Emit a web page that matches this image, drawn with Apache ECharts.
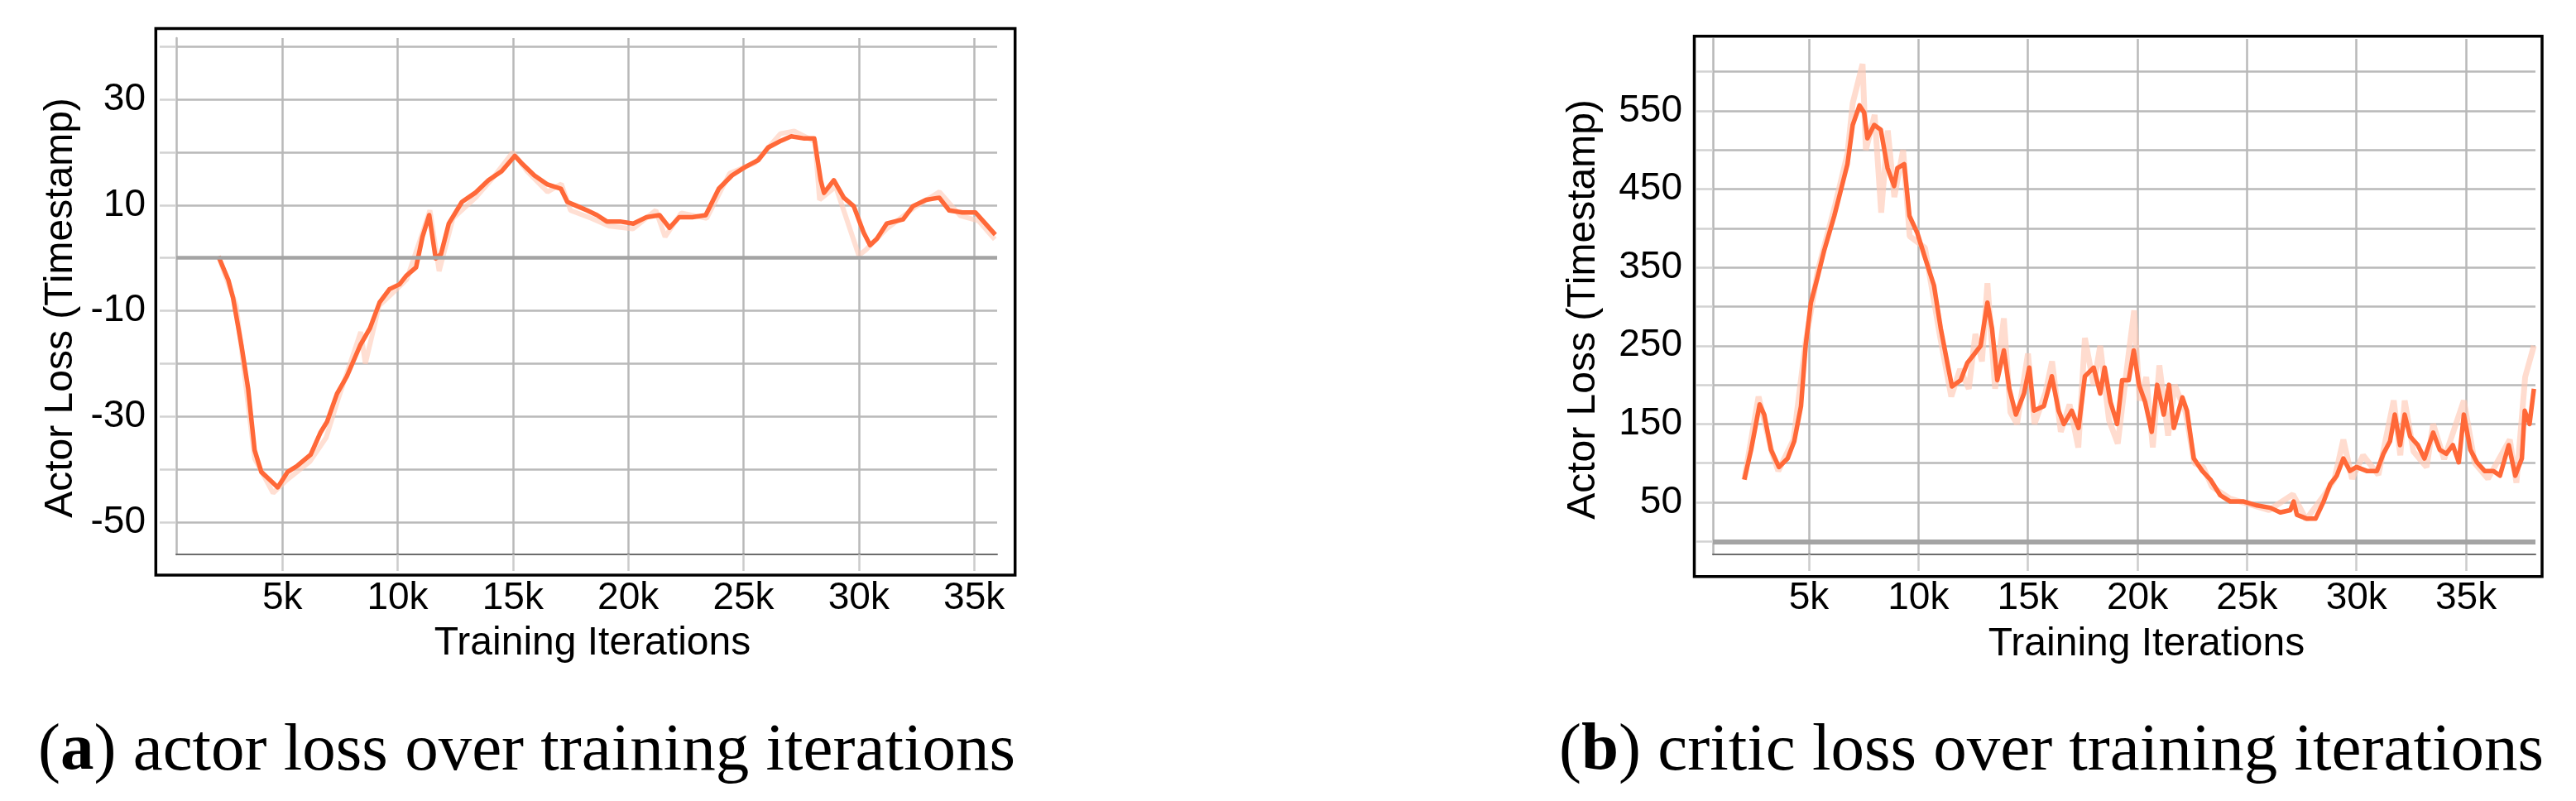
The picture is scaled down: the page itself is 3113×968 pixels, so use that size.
<!DOCTYPE html>
<html><head><meta charset="utf-8">
<script src="https://cdn.jsdelivr.net/npm/echarts@6/dist/echarts.min.js"></script>
<style>html,body{margin:0;padding:0;background:#fff}#c{width:3113px;height:968px}</style>
</head><body><div id="c"></div>
<script>
// ---------- data (iterations in thousands) ----------
const actorIterK = [2.23,2.66,2.86,3.23,3.52,3.80,4.09,4.51,4.80,5.23,5.66,6.23,6.66,6.94,7.37,7.80,8.37,8.80,9.22,9.65,10.08,10.37,10.80,11.08,11.37,11.65,11.88,12.22,12.79,13.36,13.94,14.51,15.08,15.36,15.93,16.50,17.08,17.36,17.79,18.22,18.65,19.07,19.64,20.22,20.79,21.36,21.79,22.21,22.78,23.36,23.93,24.50,25.07,25.64,26.07,26.64,27.07,27.64,28.07,28.35,28.49,28.92,29.35,29.78,30.21,30.49,30.78,31.21,31.92,32.35,32.92,33.49,33.92,34.49,35.06,35.49,35.92];
const actorLoss = [0.3,-4.2,-7.5,-16.6,-24.8,-36.4,-40.5,-42.2,-43.4,-40.5,-39.3,-37.2,-33,-31,-25.7,-22.4,-16.6,-13.3,-8.4,-5.9,-5,-3.4,-1.8,4,8.1,-0.1,0.7,6.5,10.6,12.3,14.7,16.4,19.3,18,15.6,13.9,13.1,10.6,9.8,9,8.1,6.9,6.9,6.5,7.7,8.1,5.7,7.7,7.7,8.1,13.1,15.6,17.2,18.5,20.9,22.2,23,22.6,22.6,14.7,12.3,14.7,11.4,9.8,4.8,2.4,3.6,6.5,7.3,9.8,11,11.4,9,8.6,8.6,6.5,4.4];
const actorRawIterK = [2.23,3.0,3.8,4.6,5.2,6.2,6.9,7.4,8.4,8.6,9.2,9.7,10.4,11.1,11.4,11.8,12.4,13.4,14.2,15.0,15.6,16.5,17.1,17.5,18.4,19.2,20.2,21.2,21.6,22.3,23.4,24.4,25.5,26.6,27.2,28.1,28.3,29.0,30.0,30.3,31.2,32.4,33.5,34.4,35.2,35.9];
const actorRawLoss = [0.3,-9,-38,-44.5,-42,-38.5,-34,-27,-14,-20,-9,-7,-4,5,9,-2.5,7.5,11.5,15.5,20,16.5,12.5,14,9,7.5,6,5.5,9,4,8.5,7.5,16,18,23.5,24,22,11,13.5,0.5,1.5,5.5,9.5,12.5,8,7,3.5];
const criticIterK = [2.05,2.36,2.75,2.96,3.27,3.63,4.03,4.33,4.64,4.85,5.09,5.4,5.7,6.16,6.46,6.76,7.0,7.31,7.52,7.67,7.98,8.28,8.59,8.89,9.04,9.35,9.59,9.95,10.26,10.71,11.02,11.32,11.53,11.93,12.23,12.54,12.84,13.15,13.36,13.6,13.9,14.15,14.45,14.82,15.06,15.27,15.73,16.09,16.4,16.64,17.0,17.31,17.6,18.0,18.3,18.5,18.77,19.07,19.3,19.6,19.83,20.07,20.35,20.65,20.9,21.2,21.44,21.66,22.05,22.26,22.57,22.96,23.33,23.78,24.24,24.85,25.46,26.06,26.52,26.98,27.13,27.28,27.74,28.13,28.5,28.8,29.1,29.4,29.7,30.0,30.47,30.93,31.23,31.53,31.75,31.99,32.2,32.45,32.8,33.1,33.5,33.8,34.1,34.4,34.67,34.9,35.2,35.5,35.85,36.25,36.55,36.95,37.25,37.55,37.68,37.9,38.1];
const criticLoss = [79,117,175,162,117,95,106,128,173,250,305,338,372,416,449,482,532,557,548,515,532,526,477,454,477,482,416,394,366,327,272,228,198,206,228,239,250,305,272,206,244,195,162,189,222,167,173,211,167,150,167,145,211,222,189,222,178,150,206,206,244,200,178,140,200,162,200,145,184,167,106,90,79,59,51,51,46,43,37,40,51,34,29,29,51,73,84,106,90,95,90,90,112,128,162,123,162,134,123,106,139,117,112,123,101,162,117,101,90,90,84,123,84,106,167,150,195];
const criticRawIterK = [2.05,2.7,3.3,3.6,4.3,4.85,5.4,6.2,6.76,7.0,7.45,7.6,8.0,8.3,8.6,8.9,9.3,9.6,10.3,11.0,11.5,11.9,12.3,12.6,12.9,13.15,13.5,13.9,14.2,14.5,15.0,15.3,15.8,16.1,16.5,16.9,17.3,17.6,18.0,18.3,18.7,19.1,19.6,19.85,20.1,20.4,20.7,21.0,21.4,21.7,22.2,22.6,23.0,23.4,24.2,26.0,27.1,27.7,28.5,29.0,29.4,29.8,30.3,31.0,31.7,32.0,32.2,32.6,33.2,33.5,34.0,34.9,35.4,36.0,36.6,37.0,37.3,37.7,38.1];
const criticRawLoss = [79,185,115,90,130,255,345,430,495,560,610,500,545,420,525,440,500,390,375,260,185,220,195,265,230,330,195,285,165,150,240,150,190,230,140,175,120,260,200,250,155,125,240,295,180,210,120,225,135,200,165,100,95,70,55,40,60,28,58,80,130,80,110,85,180,110,180,115,95,150,105,180,100,80,110,130,75,210,250];
const xTickValues = [5000,10000,15000,20000,25000,30000,35000];
const actorGridValues = [-50,-40,-30,-20,-10,0,10,20,30,40];
const actorLabelValues = [-50,-30,-10,10,30];
const criticGridValues = [0,50,100,150,200,250,300,350,400,450,500,550,600];
const criticLabelValues = [50,150,250,350,450,550];
const yAxisTitle = 'Actor Loss (Timestamp)';
const xAxisTitle = 'Training Iterations';
const captionLetters = ['a','b'];
const captionTexts = [' actor loss over training iterations',' critic loss over training iterations'];

const pairs = (xs, ys) => xs.map((x, i) => [x * 1000, ys[i]]);

const chart = echarts.init(document.getElementById('c'), null, {renderer: 'canvas'});
const gridColor = '#b9b9b9';
const sans = '"Liberation Sans", Arial, sans-serif';

function xAxisFor(idx, min, max) {
  return {
    type: 'value', gridIndex: idx, min: min, max: max,
    axisLine: {show: true, onZero: false, lineStyle: {color: '#6c6c6c', width: 2}},
    axisTick: {show: true, length: 20, customValues: xTickValues, lineStyle: {color: '#cccccc', width: 2.5}},
    axisLabel: {customValues: xTickValues, formatter: v => (v / 1000) + 'k', margin: 30,
      fontSize: 46, color: '#000', fontFamily: sans},
    splitLine: {show: true, lineStyle: {color: gridColor, width: 2.5}}
  };
}
function yAxisFor(idx, min, max, gridVals, labelVals) {
  return {
    type: 'value', gridIndex: idx, min: min, max: max,
    axisLine: {show: true, onZero: false, lineStyle: {color: gridColor, width: 2.5}},
    axisTick: {show: true, length: 20, customValues: gridVals, lineStyle: {color: '#d2d2d2', width: 2.5}},
    axisLabel: {customValues: labelVals, margin: 37, fontSize: 46, color: '#000', fontFamily: sans},
    splitLine: {show: true, lineStyle: {color: gridColor, width: 2.5}}
  };
}
function zeroLine(width) {
  return {silent: true, symbol: ['none', 'none'], label: {show: false},
    lineStyle: {color: '#a4a4a4', width: width, type: 'solid'}, data: [{yAxis: 0}]};
}

const option = {
  animation: false,
  backgroundColor: '#fff',
  grid: [
    {left: 213, top: 46, width: 992, height: 624},
    {left: 2070, top: 47, width: 994, height: 623}
  ],
  xAxis: [xAxisFor(0, 400, 36000), xAxisFor(1, 617, 38170)],
  yAxis: [yAxisFor(0, -56.1, 41.6, actorGridValues, actorLabelValues),
          yAxisFor(1, -16.6, 642, criticGridValues, criticLabelValues)],
  series: [
    {type: 'line', xAxisIndex: 0, yAxisIndex: 0, data: pairs(actorRawIterK, actorRawLoss), showSymbol: false,
      z: 2, lineStyle: {color: '#ffc9b6', width: 6, opacity: 0.6}, markLine: zeroLine(4.5)},
    {type: 'line', xAxisIndex: 0, yAxisIndex: 0, data: pairs(actorIterK, actorLoss), showSymbol: false,
      z: 3, lineStyle: {color: '#ff6838', width: 5.5, join: 'round'}},
    {type: 'line', xAxisIndex: 1, yAxisIndex: 1, data: pairs(criticRawIterK, criticRawLoss), showSymbol: false,
      z: 2, lineStyle: {color: '#ffc9b6', width: 7, opacity: 0.65}, markLine: zeroLine(6)},
    {type: 'line', xAxisIndex: 1, yAxisIndex: 1, data: pairs(criticIterK, criticLoss), showSymbol: false,
      z: 3, lineStyle: {color: '#ff6838', width: 5.5, join: 'round'}}
  ],
  title: [0, 1].map(i => ({
    text: '({b|' + captionLetters[i] + '})' + captionTexts[i],
    left: i === 0 ? 46 : 1884, top: 868, padding: 0,
    textStyle: {fontFamily: '"Liberation Serif", serif', fontSize: 81, fontWeight: 'normal', color: '#000',
      rich: {b: {fontFamily: '"Liberation Serif", serif', fontSize: 81, fontWeight: 'bold', color: '#000'}}}
  })),
  graphic: [
    {type: 'rect', shape: {x: 188.3, y: 34.5, width: 1038.4, height: 660.5}, style: {fill: 'none', stroke: '#000', lineWidth: 3.5}, z: 10},
    {type: 'rect', shape: {x: 2047.5, y: 43.7, width: 1024.5, height: 653}, style: {fill: 'none', stroke: '#000', lineWidth: 3.5}, z: 10},
    {type: 'text', x: 74, y: 372, rotation: Math.PI / 2,
      style: {text: yAxisTitle, font: '48px ' + sans, textAlign: 'center', textVerticalAlign: 'middle', fill: '#000'}},
    {type: 'text', x: 1914, y: 374, rotation: Math.PI / 2,
      style: {text: yAxisTitle, font: '48px ' + sans, textAlign: 'center', textVerticalAlign: 'middle', fill: '#000'}},
    {type: 'text', x: 716, y: 778,
      style: {text: xAxisTitle, font: '48px ' + sans, textAlign: 'center', textVerticalAlign: 'middle', fill: '#000'}},
    {type: 'text', x: 2594, y: 779,
      style: {text: xAxisTitle, font: '48px ' + sans, textAlign: 'center', textVerticalAlign: 'middle', fill: '#000'}}
  ]
};
chart.setOption(option);
</script></body></html>
